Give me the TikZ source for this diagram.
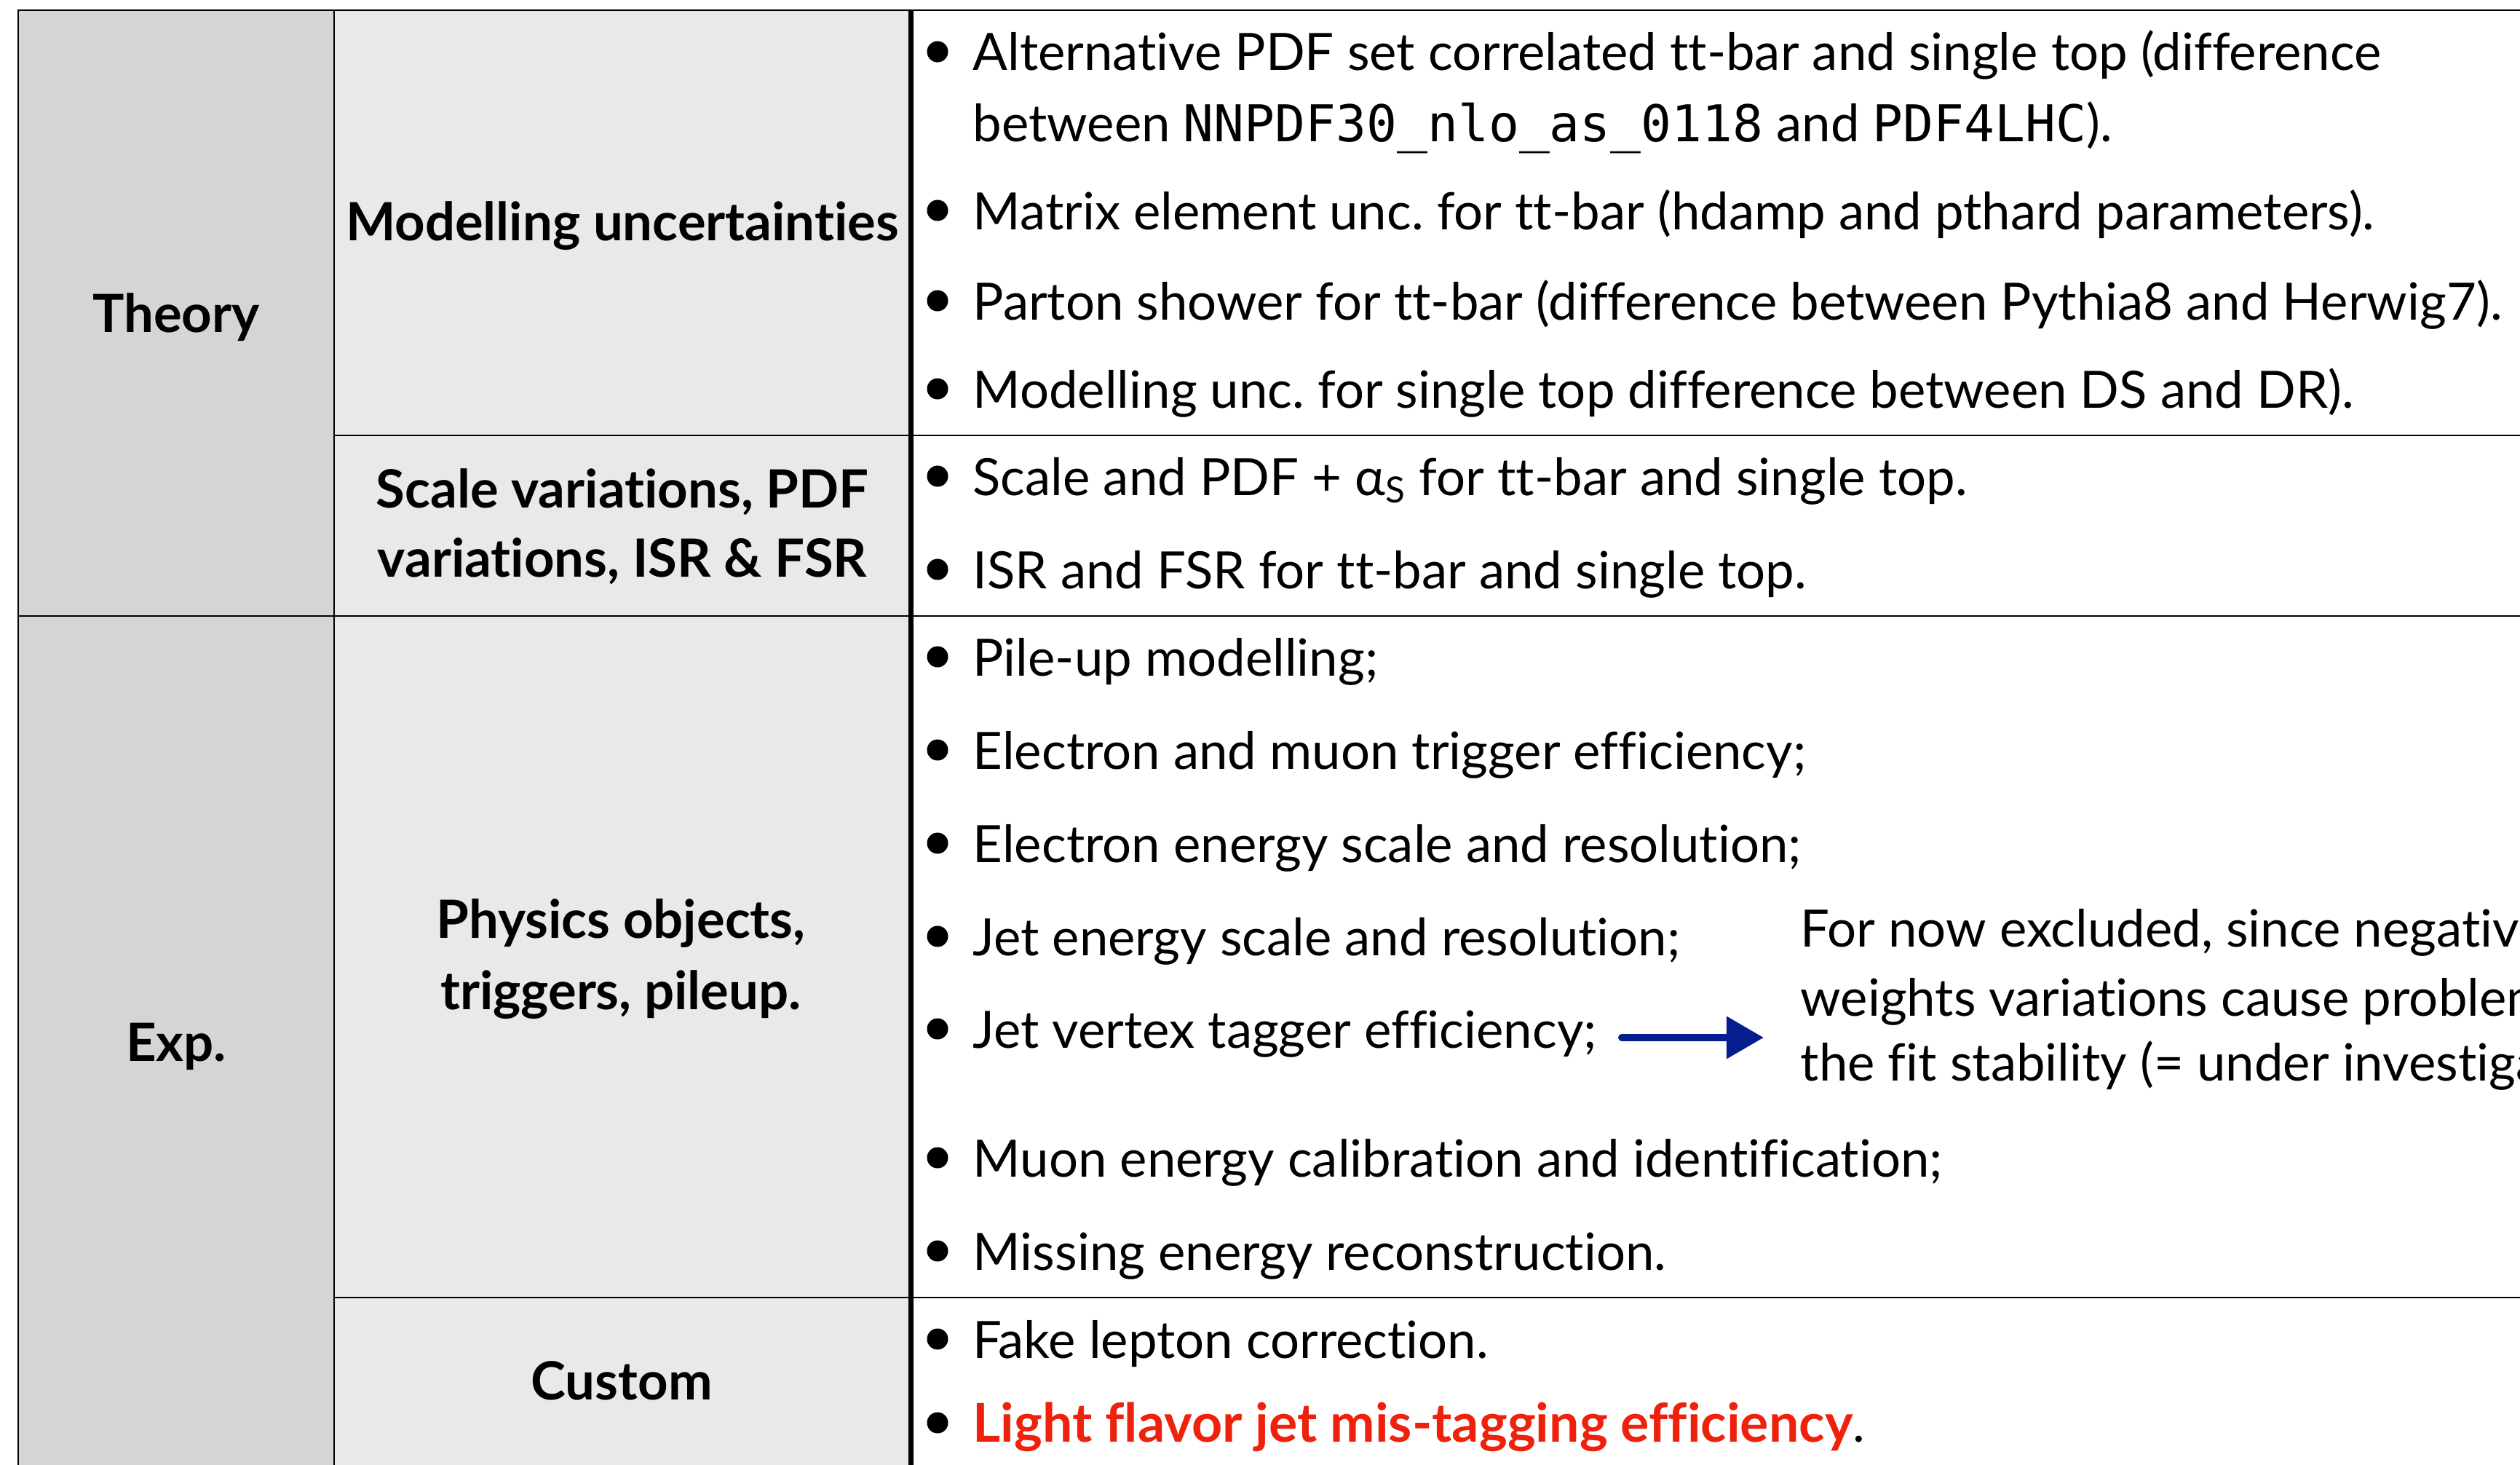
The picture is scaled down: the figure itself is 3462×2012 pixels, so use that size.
\documentclass[tikz,border=0pt]{standalone}
\usepackage{fontspec}
\setmainfont[Ligatures=NoCommon]{Lato}
\setmonofont{DejaVu Sans Mono}
\usetikzlibrary{arrows.meta}
\frenchspacing

\definecolor{catgray}{RGB}{213,213,213}
\definecolor{subgray}{RGB}{233,233,233}
\definecolor{alertred}{RGB}{238,34,12}
\definecolor{arrowblue}{RGB}{4,30,143}

\newcommand{\itemfont}{\fontsize{20.1pt}{24pt}\selectfont}
\newcommand{\hdrfont}{\fontsize{20.6pt}{24pt}\selectfont\bfseries}
\newcommand{\codetxt}[1]{{\ttfamily\fontsize{19.8pt}{24pt}\selectfont #1}}
\newcommand{\alerttxt}[1]{{\color{alertred}\fontsize{20.9pt}{24pt}\selectfont\bfseries #1}}

\begin{document}
\begin{tikzpicture}[x=0.01cm, y=-0.01cm,
  itemtext/.style={anchor=base west, inner sep=0pt, font=\itemfont},
  headtext/.style={anchor=base, inner sep=0pt, font=\hdrfont},
  bulletdot/.style={circle, fill=black, minimum size=0.29cm, inner sep=0pt},
  gridline/.style={line width=0.6pt, draw=black},
  divider/.style={line width=1.9pt, draw=black},
  pointer/.style={draw=arrowblue, line width=0.1cm, line cap=round,
    -{Triangle[length=0.51cm, width=0.56cm, fill=arrowblue]}}]

\useasboundingbox (0,0) rectangle (3462,2012);
\begin{scope}
\clip (0,0) rectangle (3462,2012);

% column backgrounds
\fill[catgray] (25,14) rectangle (459,2012);
\fill[subgray] (459,14) rectangle (1250,2012);

% table rules
\draw[gridline] (25,2012) -- (25,14) -- (3462,14);
\draw[gridline] (459,14) -- (459,2012);
\draw[gridline] (459,598) -- (3462,598);
\draw[gridline] (25,846) -- (3462,846);
\draw[gridline] (459,1782) -- (3462,1782);
\draw[divider] (1251.5,14) -- (1251.5,2012);

% category labels
\node[headtext] (theory) at (242,456) {Theory};
\node[headtext] (exp) at (242,1457) {Exp.};

% sub-category labels
\node[headtext] (modunc) at (855,330) {Modelling uncertainties};
\node[headtext] (scale1) at (855,697) {Scale variations, PDF};
\node[headtext] (scale2) at (855,792) {variations, ISR \& FSR};
\node[headtext] (phys1) at (853,1288) {Physics objects,};
\node[headtext] (phys2) at (853,1386) {triggers, pileup.};
\node[headtext] (custom) at (854,1922) {Custom};

% bullets
\foreach \n/\y in {1/97,2/315,3/439,4/560,5/680,6/808,7/928,8/1056,9/1184,
                   10/1312,11/1439,12/1616,13/1744,14/1865,15/1980}
  \node[bulletdot] (bul\n) at (1288,\y-26) {};

% items
\node[itemtext] (t1a) at (1336,97) {Alternative PDF set correlated tt-bar and single top (difference};
\node[itemtext] (t1b) at (1336,194) {between \codetxt{NNPDF30\_nlo\_as\_0118} and \codetxt{PDF4LHC}).};
\node[itemtext] (t2) at (1336,315) {Matrix element unc. for tt-bar (hdamp and pthard parameters).};
\node[itemtext] (t3) at (1336,439) {Parton shower for tt-bar (difference between Pythia8 and Herwig7).};
\node[itemtext] (t4) at (1336,560) {Modelling unc. for single top difference between DS and DR).};
\node[itemtext] (t5) at (1336,680) {Scale and PDF + α\textsubscript{S} for tt-bar and single top.};
\node[itemtext] (t6) at (1336,808) {ISR and FSR for tt-bar and single top.};
\node[itemtext] (t7) at (1336,928) {Pile-up modelling;};
\node[itemtext] (t8) at (1336,1056) {Electron and muon trigger efficiency;};
\node[itemtext] (t9) at (1336,1184) {Electron energy scale and resolution;};
\node[itemtext] (t10) at (1336,1312) {Jet energy scale and resolution;};
\node[itemtext] (t11) at (1336,1439) {Jet vertex tagger efficiency;};
\node[itemtext] (t12) at (1336,1616) {Muon energy calibration and identification;};
\node[itemtext] (t13) at (1336,1744) {Missing energy reconstruction.};
\node[itemtext] (t14) at (1336,1865) {Fake lepton correction.};
\node[itemtext] (t15) at (1336,1980) {\alerttxt{Light flavor jet mis-tagging efficiency}.};

% side note on the excluded systematics
\node[itemtext] (note1) at (2473,1300) {For now excluded, since negative};
\node[itemtext] (note2) at (2473,1395) {weights variations cause problems in};
\node[itemtext] (note3) at (2473,1484) {the fit stability (= under investigation)};

\coordinate (arrS) at (2228,1425);
\coordinate (arrE) at (2423,1425);
\draw[pointer] (arrS) -- (arrE);
\end{scope}
\end{tikzpicture}
\end{document}
